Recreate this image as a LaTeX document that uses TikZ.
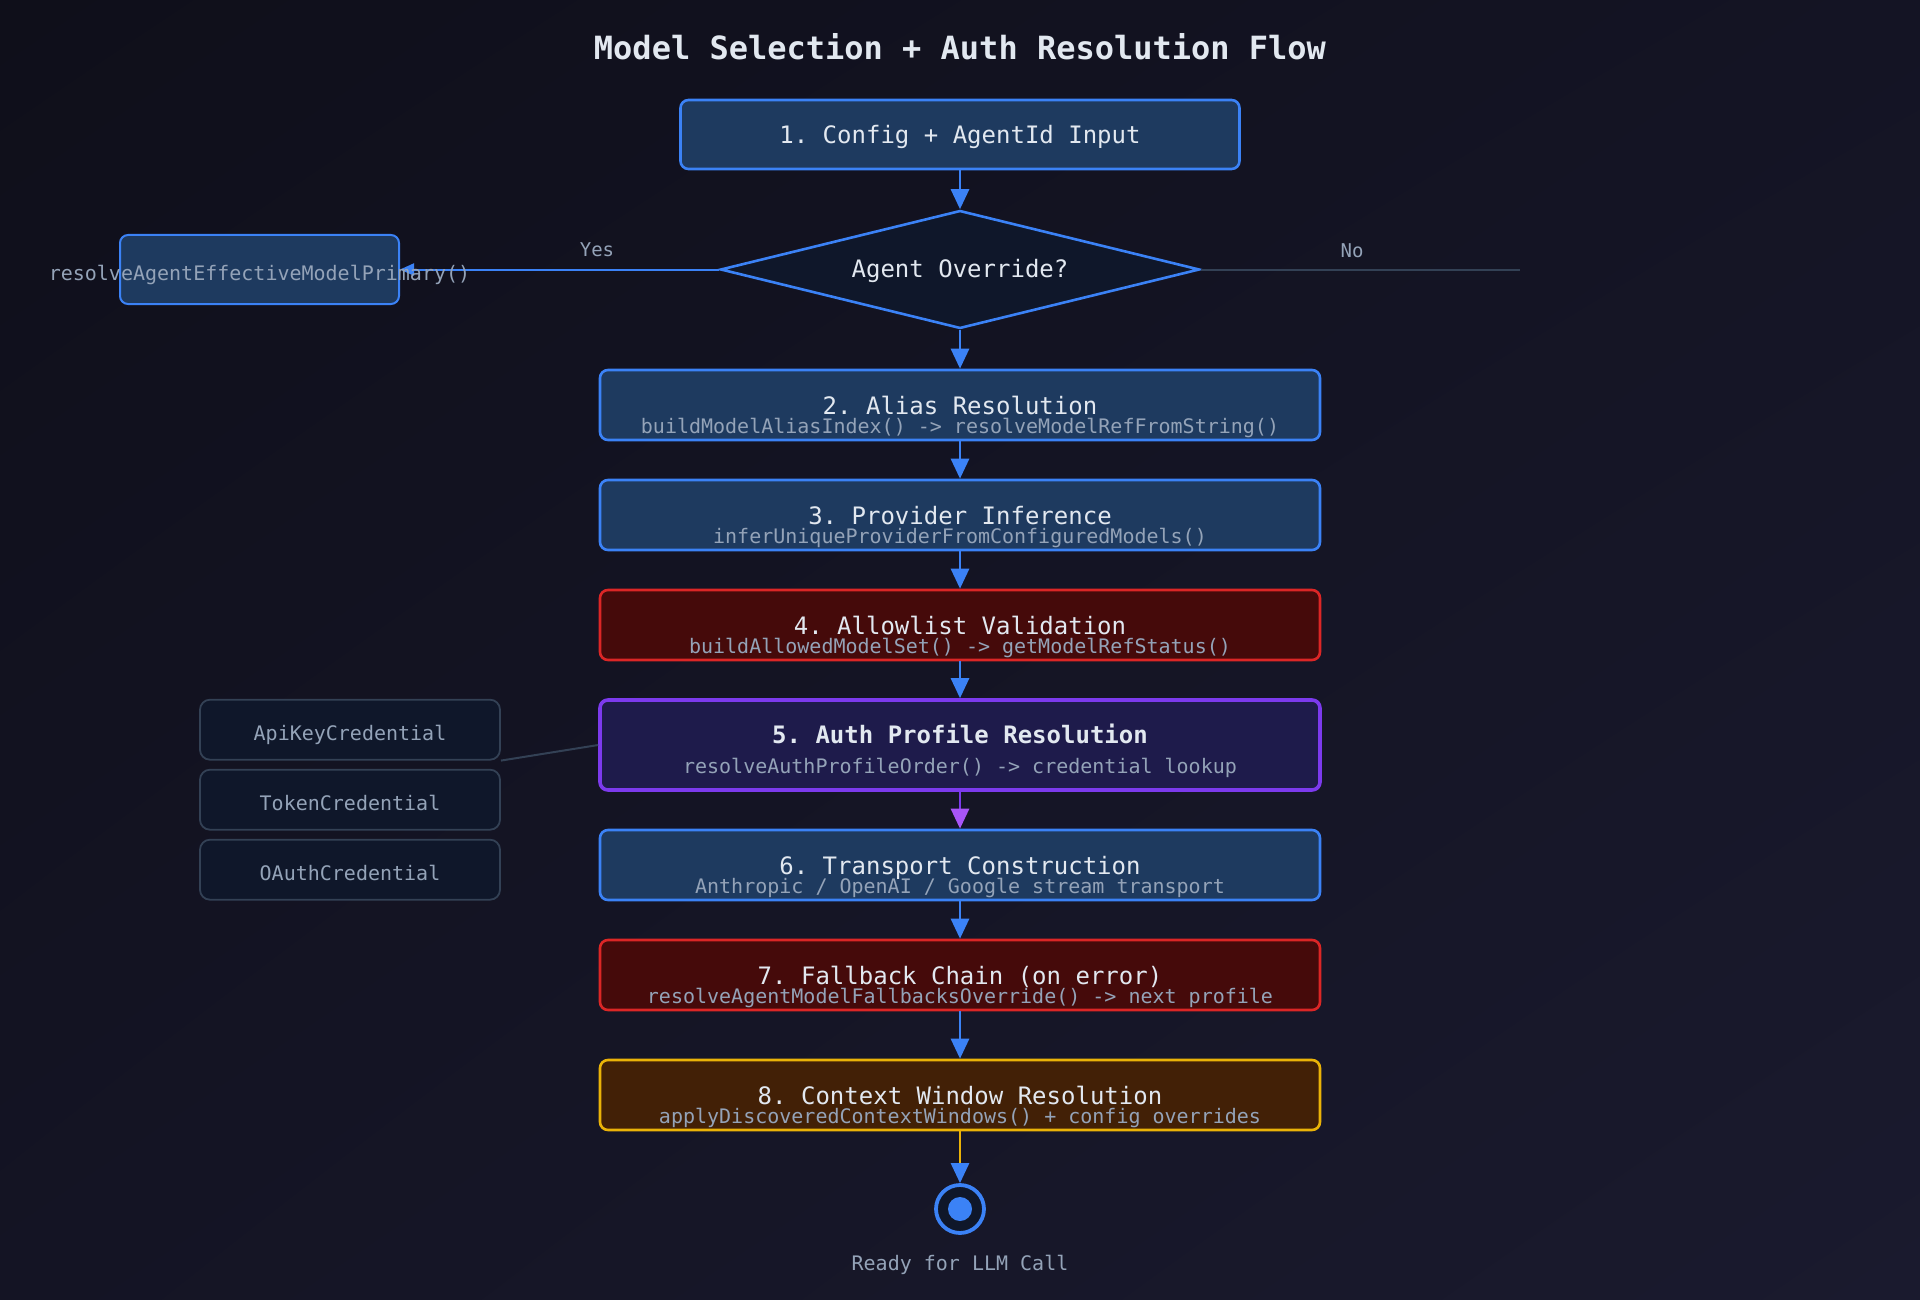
\documentclass[tikz,border=0pt]{standalone}
\usepackage{fontspec}
\setmonofont{DejaVu Sans Mono}
\usetikzlibrary{shapes.geometric,arrows.meta,shadings}
\definecolor{bgtop}{HTML}{0F0F1A}
\definecolor{bgmid}{HTML}{141424}
\definecolor{bgbot}{HTML}{1A1A2E}
\definecolor{bluefill}{HTML}{1E3A5F}
\definecolor{blueline}{HTML}{3B82F6}
\definecolor{redfill}{HTML}{450A0A}
\definecolor{redline}{HTML}{DC2626}
\definecolor{purplefill}{HTML}{1E1B4B}
\definecolor{purpleline}{HTML}{7C3AED}
\definecolor{purplehead}{HTML}{A855F7}
\definecolor{amberfill}{HTML}{422006}
\definecolor{amberline}{HTML}{EAB308}
\definecolor{darkfill}{HTML}{0F172A}
\definecolor{mutedline}{HTML}{334155}
\definecolor{headtext}{HTML}{E2E8F0}
\definecolor{subtext}{HTML}{94A3B8}

\begin{document}
\begin{tikzpicture}[x=1pt,y=-1pt,
    stagebox/.style={rectangle, rounded corners=8pt, line width=2.6pt, minimum width=720pt, minimum height=70pt, inner sep=0pt},
    bluebox/.style={stagebox, draw=blueline, fill=bluefill},
    redbox/.style={stagebox, draw=redline, fill=redfill},
    credbox/.style={rectangle, rounded corners=10pt, draw=mutedline, fill=darkfill, line width=1.8pt, minimum width=300pt, minimum height=60pt, inner sep=0pt},
    headtxt/.style={anchor=base, text=headtext, font=\ttfamily\fontsize{24}{28}\selectfont},
    subtxt/.style={anchor=base, text=subtext, font=\ttfamily\fontsize{20}{24}\selectfont},
    branchtxt/.style={anchor=base, text=subtext, font=\ttfamily\fontsize{19}{23}\selectfont},
    flow/.style={line width=2.8pt, draw=blueline, -{Triangle[length=20pt,width=18pt,color=blueline]}},
    sideline/.style={line width=2pt, draw=mutedline}]
    \shade[upper left=bgtop, upper right=bgmid, lower left=bgmid, lower right=bgbot] (0,0) rectangle (1920,1300);
    \useasboundingbox (0,0) rectangle (1920,1300);

    \node[anchor=base, text=headtext, font=\ttfamily\bfseries\fontsize{32}{36}\selectfont] (title) at (960,60) {Model Selection + Auth Resolution Flow};

    \node[bluebox, minimum width=559pt, minimum height=69pt] (n1) at (960,134.5) {};
    \node[diamond, draw=blueline, fill=darkfill, line width=2.6pt, minimum width=479pt, minimum height=118pt, inner sep=0pt] (dec) at (960,269.5) {};
    \node[bluebox, line width=2pt, minimum width=279pt, minimum height=69pt] (prim) at (259.5,269.5) {};
    \node[bluebox] (n2) at (960,405) {};
    \node[bluebox] (n3) at (960,515) {};
    \node[redbox] (n4) at (960,625) {};
    \node[stagebox, draw=purpleline, fill=purplefill, line width=3.6pt, minimum height=90pt] (n5) at (960,745) {};
    \node[bluebox] (n6) at (960,865) {};
    \node[redbox] (n7) at (960,975) {};
    \node[stagebox, draw=amberline, fill=amberfill] (n8) at (960,1095) {};
    \node[circle, draw=blueline, fill=darkfill, line width=3.8pt, minimum size=48pt, inner sep=0pt] (done) at (960,1209) {};
    \fill[blueline] (done.center) circle (12);

    \node[credbox] (api) at (350,729.7) {};
    \node[credbox] (tok) at (350,799.7) {};
    \node[credbox] (oauth) at (350,869.7) {};

    \coordinate (noend) at (1520,269.5);
    \draw[flow] (n1.south) -- (dec.north);
    \draw[line width=2pt, draw=blueline, -{Triangle[length=14pt,width=12pt,color=blueline]}] (dec.west) -- (prim.east);
    \draw[sideline] (dec.east) -- (noend);
    \draw[flow] (dec.south) -- (n2.north);
    \draw[flow] (n2.south) -- (n3.north);
    \draw[flow] (n3.south) -- (n4.north);
    \draw[flow] (n4.south) -- (n5.north);
    \draw[flow, draw=purpleline, -{Triangle[length=20pt,width=18pt,color=purplehead]}] (n5.south) -- (n6.north);
    \draw[flow] (n6.south) -- (n7.north);
    \draw[flow] (n7.south) -- (n8.north);
    \draw[flow, draw=amberline] (n8.south) -- (done.north);
    \draw[sideline] (api.south east) -- (n5.west);

    \node[headtxt] (t1) at (960,143.5) {1. Config + AgentId Input};
    \node[headtxt] (dect) at (960,277) {Agent Override?};
    \node[subtxt] (primt) at (259.5,280) {resolveAgentEffectiveModelPrimary()};
    \node[branchtxt] (yes) at (597,257) {Yes};
    \node[branchtxt] (no) at (1352,258) {No};
    \node[headtxt] (t2) at (960,414) {2. Alias Resolution};
    \node[subtxt] (s2) at (960,433.5) {buildModelAliasIndex() -> resolveModelRefFromString()};
    \node[headtxt] (t3) at (960,524) {3. Provider Inference};
    \node[subtxt] (s3) at (960,543.5) {inferUniqueProviderFromConfiguredModels()};
    \node[headtxt] (t4) at (960,634) {4. Allowlist Validation};
    \node[subtxt] (s4) at (960,653.5) {buildAllowedModelSet() -> getModelRefStatus()};
    \node[headtxt, font=\ttfamily\bfseries\fontsize{24}{28}\selectfont] (t5) at (960,743.5) {5. Auth Profile Resolution};
    \node[subtxt] (s5) at (960,773.5) {resolveAuthProfileOrder() -> credential lookup};
    \node[headtxt] (t6) at (960,874) {6. Transport Construction};
    \node[subtxt] (s6) at (960,893.5) {Anthropic / OpenAI / Google stream transport};
    \node[headtxt] (t7) at (960,984) {7. Fallback Chain (on error)};
    \node[subtxt] (s7) at (960,1003.5) {resolveAgentModelFallbacksOverride() -> next profile};
    \node[headtxt] (t8) at (960,1104) {8. Context Window Resolution};
    \node[subtxt] (s8) at (960,1123.5) {applyDiscoveredContextWindows() + config overrides};
    \node[subtxt] (apit) at (350,740) {ApiKeyCredential};
    \node[subtxt] (tokt) at (350,810) {TokenCredential};
    \node[subtxt] (oautht) at (350,880) {OAuthCredential};
    \node[subtxt] (readyt) at (960,1270) {Ready for LLM Call};
\end{tikzpicture}
\end{document}
